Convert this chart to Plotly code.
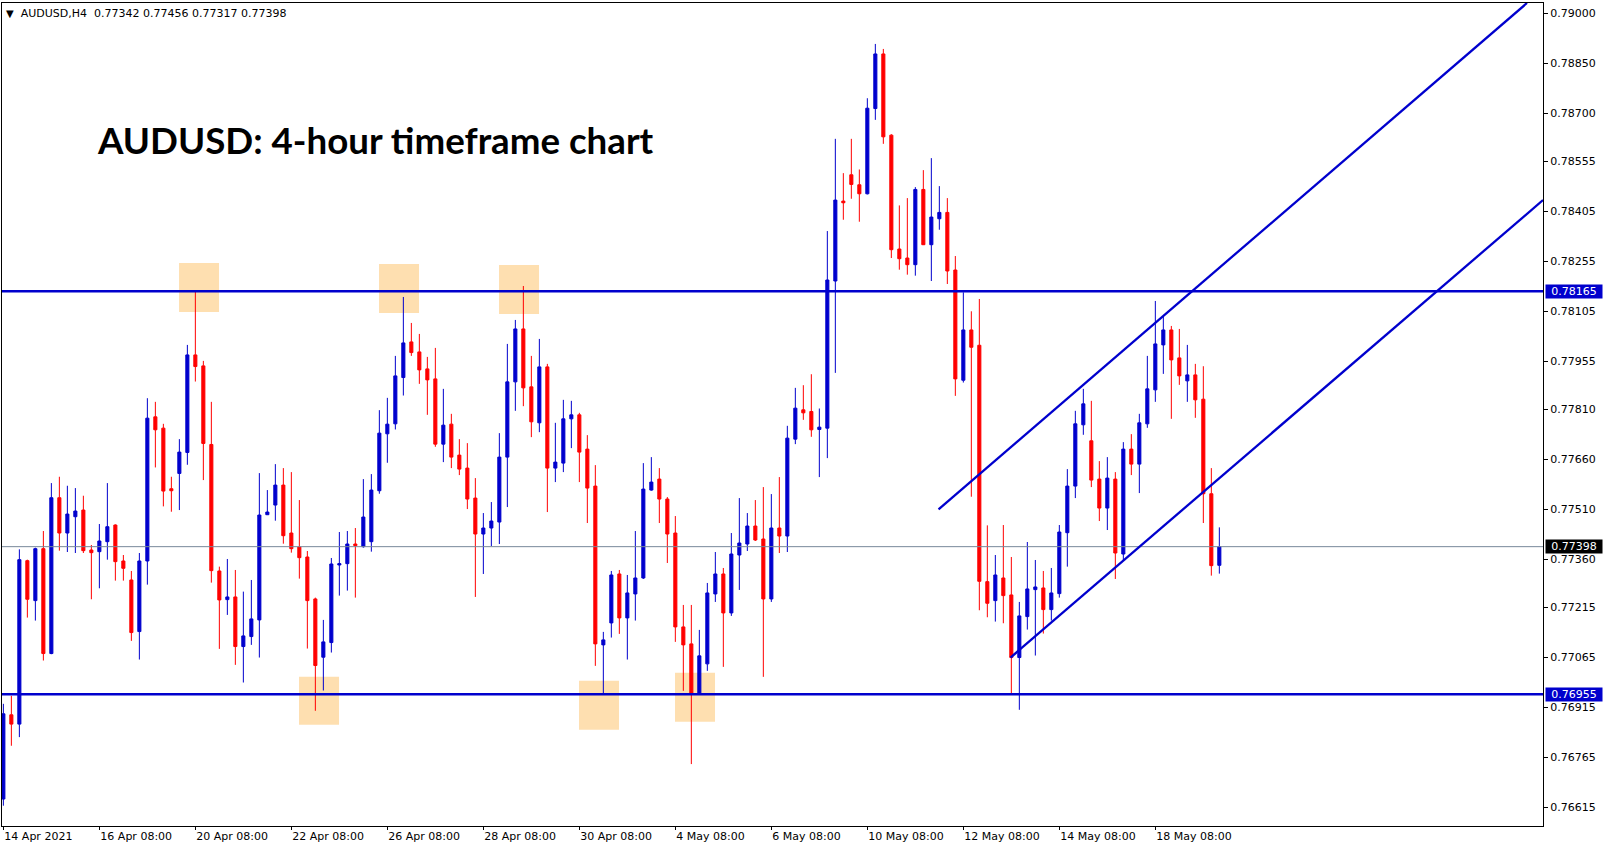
import plotly.graph_objects as go

# ---------------- data ----------------
DAYS = ["2021-04-14", "2021-04-15", "2021-04-16",
        "2021-04-19", "2021-04-20", "2021-04-21", "2021-04-22", "2021-04-23",
        "2021-04-26", "2021-04-27", "2021-04-28", "2021-04-29", "2021-04-30",
        "2021-05-03", "2021-05-04", "2021-05-05", "2021-05-06", "2021-05-07",
        "2021-05-10", "2021-05-11", "2021-05-12", "2021-05-13", "2021-05-14",
        "2021-05-17", "2021-05-18", "2021-05-19"]
HOURS = ["00:00", "04:00", "08:00", "12:00", "16:00", "20:00"]
TIMES = [f"{d} {h}" for d in DAYS for h in HOURS][2:155]

OPEN = [
    0.76640, 0.76893, 0.76865, 0.77356, 0.77236, 0.77392, 0.77077, 0.77545, 0.77439, 0.77488,
    0.77508, 0.77388, 0.77383, 0.77413, 0.77463, 0.77355, 0.77298, 0.77143, 0.77355, 0.77788,
    0.77754, 0.77572, 0.77618, 0.77681, 0.77974, 0.77941, 0.77705, 0.77325, 0.77239, 0.77247,
    0.77098, 0.77128, 0.77178, 0.77494, 0.77523, 0.77583, 0.77439, 0.77397, 0.77367, 0.77241,
    0.77066, 0.77110, 0.77343, 0.77347, 0.77406, 0.77398, 0.77413, 0.77566, 0.77737, 0.77767,
    0.77906, 0.78013, 0.77983, 0.77932, 0.77902, 0.77706, 0.77766, 0.77673, 0.77634, 0.77544,
    0.77436, 0.77454, 0.77472, 0.77667, 0.77893, 0.78052, 0.77878, 0.77770, 0.77938, 0.77634,
    0.77649, 0.77782, 0.77794, 0.77691, 0.77580, 0.77103, 0.77169, 0.77316, 0.77184, 0.77256,
    0.77304, 0.77568, 0.77601, 0.77541, 0.77439, 0.77157, 0.77106, 0.76955, 0.77046, 0.77256,
    0.77316, 0.77199, 0.77373, 0.77406, 0.77460, 0.77421, 0.77241, 0.77454, 0.77430, 0.77721,
    0.77809, 0.77804, 0.77750, 0.77754, 0.78196, 0.78436, 0.78515, 0.78485, 0.78458, 0.78714,
    0.78878, 0.78634, 0.78292, 0.78265, 0.78245, 0.78471, 0.78305, 0.78383, 0.78402, 0.78229,
    0.77898, 0.78049, 0.78003, 0.77293, 0.77236, 0.77304, 0.77253, 0.77065, 0.77188, 0.77269,
    0.77274, 0.77209, 0.77257, 0.77440, 0.77580, 0.77764, 0.77716, 0.77601, 0.77514, 0.77601,
    0.77376, 0.77691, 0.77646, 0.77767, 0.77869, 0.78004, 0.78049, 0.77965, 0.77896, 0.77914,
    0.77841, 0.77557, 0.77342]

HIGH = [
    0.76926, 0.76950, 0.77390, 0.77359, 0.77395, 0.77445, 0.77589, 0.77608, 0.77581, 0.77574,
    0.77551, 0.77403, 0.77466, 0.77589, 0.77465, 0.77373, 0.77325, 0.77379, 0.77844, 0.77833,
    0.77767, 0.77608, 0.77721, 0.78004, 0.78168, 0.77956, 0.77833, 0.77338, 0.77361, 0.77328,
    0.77263, 0.77298, 0.77619, 0.77568, 0.77646, 0.77634, 0.77622, 0.77538, 0.77385, 0.77245,
    0.77178, 0.77364, 0.77442, 0.77445, 0.77454, 0.77601, 0.77616, 0.77808, 0.77845, 0.77971,
    0.78148, 0.78070, 0.78037, 0.77968, 0.77995, 0.77872, 0.77797, 0.77721, 0.77709, 0.77604,
    0.77499, 0.77532, 0.77739, 0.78007, 0.78079, 0.78181, 0.77971, 0.78022, 0.77947, 0.77770,
    0.77839, 0.77836, 0.77800, 0.77733, 0.77643, 0.77142, 0.77325, 0.77328, 0.77313, 0.77445,
    0.77649, 0.77667, 0.77634, 0.77547, 0.77490, 0.77223, 0.77223, 0.77148, 0.77289, 0.77382,
    0.77334, 0.77439, 0.77544, 0.77499, 0.77538, 0.77577, 0.77556, 0.77607, 0.77761, 0.77875,
    0.77883, 0.77916, 0.77813, 0.78346, 0.78623, 0.78520, 0.78623, 0.78531, 0.78745, 0.78908,
    0.78893, 0.78637, 0.78423, 0.78445, 0.78478, 0.78529, 0.78565, 0.78481, 0.78445, 0.78271,
    0.78162, 0.78105, 0.78142, 0.77462, 0.77373, 0.77463, 0.77367, 0.77232, 0.77412, 0.77358,
    0.77325, 0.77334, 0.77463, 0.77631, 0.77806, 0.77872, 0.77836, 0.77655, 0.77667, 0.77622,
    0.77712, 0.77736, 0.77797, 0.77971, 0.78136, 0.78088, 0.78061, 0.78052, 0.78004, 0.77947,
    0.77940, 0.77634, 0.77456]

LOW = [
    0.76620, 0.76800, 0.76826, 0.77185, 0.77176, 0.77056, 0.77075, 0.77386, 0.77382, 0.77379,
    0.77379, 0.77240, 0.77273, 0.77359, 0.77296, 0.77296, 0.77115, 0.77059, 0.77284, 0.77636,
    0.77519, 0.77503, 0.77508, 0.77644, 0.77894, 0.77598, 0.77290, 0.77091, 0.77193, 0.77043,
    0.76990, 0.77103, 0.77065, 0.77493, 0.77476, 0.77407, 0.77380, 0.77302, 0.77092, 0.76905,
    0.76966, 0.77080, 0.77251, 0.77266, 0.77245, 0.77395, 0.77383, 0.77557, 0.77650, 0.77750,
    0.77852, 0.77971, 0.77887, 0.77794, 0.77698, 0.77652, 0.77634, 0.77613, 0.77511, 0.77247,
    0.77316, 0.77400, 0.77406, 0.77517, 0.77806, 0.77820, 0.77727, 0.77742, 0.77502, 0.77592,
    0.77622, 0.77694, 0.77592, 0.77469, 0.77040, 0.76958, 0.77125, 0.77136, 0.77059, 0.77176,
    0.77301, 0.77566, 0.77469, 0.77349, 0.77112, 0.76965, 0.76745, 0.76953, 0.77025, 0.77232,
    0.77037, 0.77190, 0.77268, 0.77385, 0.77415, 0.77007, 0.77232, 0.77379, 0.77382, 0.77706,
    0.77779, 0.77728, 0.77607, 0.77664, 0.77920, 0.78380, 0.78443, 0.78374, 0.78456, 0.78680,
    0.78608, 0.78265, 0.78230, 0.78215, 0.78212, 0.78304, 0.78196, 0.78350, 0.78187, 0.77851,
    0.77891, 0.77548, 0.77207, 0.77186, 0.77173, 0.77168, 0.76958, 0.76908, 0.77149, 0.77071,
    0.77137, 0.77176, 0.77245, 0.77338, 0.77544, 0.77734, 0.77577, 0.77475, 0.77448, 0.77301,
    0.77355, 0.77613, 0.77559, 0.77755, 0.77833, 0.77917, 0.77782, 0.77884, 0.77833, 0.77785,
    0.77469, 0.77311, 0.77317]

CLOSE = [
    0.76896, 0.76865, 0.77359, 0.77240, 0.77392, 0.77077, 0.77545, 0.77439, 0.77496, 0.77505,
    0.77386, 0.77380, 0.77415, 0.77458, 0.77353, 0.77333, 0.77140, 0.77355, 0.77784, 0.77749,
    0.77565, 0.77566, 0.77682, 0.77974, 0.77939, 0.77708, 0.77326, 0.77238, 0.77247, 0.77098,
    0.77130, 0.77181, 0.77493, 0.77502, 0.77583, 0.77431, 0.77392, 0.77365, 0.77236, 0.77041,
    0.77112, 0.77346, 0.77347, 0.77406, 0.77401, 0.77487, 0.77568, 0.77739, 0.77766, 0.77911,
    0.78010, 0.77981, 0.77929, 0.77899, 0.77706, 0.77763, 0.77667, 0.77631, 0.77541, 0.77436,
    0.77454, 0.77475, 0.77667, 0.77893, 0.78052, 0.77875, 0.77773, 0.77938, 0.77634, 0.77652,
    0.77782, 0.77794, 0.77682, 0.77574, 0.77106, 0.77118, 0.77313, 0.77184, 0.77259, 0.77304,
    0.77571, 0.77592, 0.77541, 0.77436, 0.77157, 0.77103, 0.76955, 0.77070, 0.77259, 0.77316,
    0.77199, 0.77376, 0.77409, 0.77460, 0.77418, 0.77241, 0.77454, 0.77430, 0.77724, 0.77814,
    0.77800, 0.77749, 0.77757, 0.78199, 0.78439, 0.78431, 0.78486, 0.78458, 0.78715, 0.78878,
    0.78629, 0.78290, 0.78263, 0.78245, 0.78471, 0.78305, 0.78388, 0.78402, 0.78226, 0.77902,
    0.78049, 0.77997, 0.77294, 0.77228, 0.77313, 0.77251, 0.77065, 0.77190, 0.77271, 0.77277,
    0.77209, 0.77259, 0.77442, 0.77580, 0.77767, 0.77827, 0.77598, 0.77514, 0.77604, 0.77379,
    0.77691, 0.77646, 0.77770, 0.77872, 0.78007, 0.78049, 0.77959, 0.77911, 0.77914, 0.77839,
    0.77557, 0.77341, 0.77398]

X_TICK_LABELS = ["14 Apr 2021", "16 Apr 08:00", "20 Apr 08:00", "22 Apr 08:00",
                 "26 Apr 08:00", "28 Apr 08:00", "30 Apr 08:00", "4 May 08:00",
                 "6 May 08:00", "10 May 08:00", "12 May 08:00", "14 May 08:00",
                 "18 May 08:00"]
Y_TICKS = [0.79000, 0.78850, 0.78700, 0.78555, 0.78405, 0.78255, 0.78105, 0.77955,
           0.77810, 0.77660, 0.77510, 0.77360, 0.77215, 0.77065, 0.76915, 0.76765,
           0.76615]

RESISTANCE = 0.78165
SUPPORT = 0.76955
LAST_PRICE = 0.77398
HEADER_OHLC = [0.77342, 0.77456, 0.77317, 0.77398]

# channel lines: (bar index, price) pairs
CHANNEL_UPPER = [(116.9, 0.77510), (190.46, 0.79031)]
CHANNEL_LOWER = [(125.9, 0.77065), (192.46, 0.78439)]

# highlight boxes: (left bar index, top price, bottom price), 5 bars wide
BOXES = [(21.96, 0.78250, 0.78103), (46.96, 0.78247, 0.78100), (61.96, 0.78244, 0.78097),
         (36.96, 0.77007, 0.76863), (71.96, 0.76995, 0.76848), (83.96, 0.77019, 0.76872)]
BOX_WIDTH = 5

# ---------------- styles ----------------
BLUE = "#0000CD"
RED = "#FF0000"
BOX_COLOR = "#FEDFB0"
FONT = "DejaVu Sans"

fig = go.Figure()
fig.add_trace(go.Candlestick(
    x=TIMES, open=OPEN, high=HIGH, low=LOW, close=CLOSE,
    increasing=dict(line=dict(color=BLUE, width=1), fillcolor=BLUE),
    decreasing=dict(line=dict(color=RED, width=1), fillcolor=RED),
    whiskerwidth=0, hoverinfo="skip", showlegend=False,
))

shapes = []
for (x0, top, bot) in BOXES:
    shapes.append(dict(type="rect", xref="x", yref="y", x0=x0, x1=x0 + BOX_WIDTH,
                       y0=bot, y1=top, fillcolor=BOX_COLOR, line=dict(width=0),
                       layer="below"))
shapes.append(dict(type="line", xref="paper", yref="y", x0=0, x1=1,
                   y0=LAST_PRICE, y1=LAST_PRICE, line=dict(color="#778899", width=1)))
for lvl in (RESISTANCE, SUPPORT):
    shapes.append(dict(type="line", xref="paper", yref="y", x0=0, x1=1,
                       y0=lvl, y1=lvl, line=dict(color=BLUE, width=2.5)))
for (p0, p1) in (CHANNEL_UPPER, CHANNEL_LOWER):
    shapes.append(dict(type="line", xref="x", yref="y", x0=p0[0], y0=p0[1],
                       x1=p1[0], y1=p1[1], line=dict(color=BLUE, width=2.3)))

annotations = [
    dict(xref="paper", yref="paper", x=0, y=1, xanchor="left", yanchor="top",
         xshift=2, yshift=-2, showarrow=False,
         text="<span style='font-size:10px'>\u25BC</span>\u00a0\u00a0AUDUSD,H4\u00a0\u00a0"
              + " ".join(f"{v:.5f}" for v in HEADER_OHLC),
         font=dict(family=FONT, size=11, color="#000000")),
    dict(xref="paper", yref="paper", x=0.0604, y=0.8335, xanchor="left", yanchor="middle",
         showarrow=False, text="<b>AUDUSD: 4-hour timeframe chart</b>",
         font=dict(family="Lato", size=36.7, color="#000000")),
]
for price, bg in ((RESISTANCE, BLUE), (LAST_PRICE, "#000000"), (SUPPORT, BLUE)):
    annotations.append(dict(xref="paper", yref="y", x=1, y=price, xanchor="left",
                            yanchor="middle", xshift=2, showarrow=False,
                            text=f"{price:.5f}", bgcolor=bg, borderpad=0,
                            width=56, height=13, align="center",
                            font=dict(family=FONT, size=11, color="#FFFFFF")))

fig.update_layout(
    width=1607, height=850,
    margin=dict(l=2, r=64, t=3, b=24),
    paper_bgcolor="#FFFFFF", plot_bgcolor="#FFFFFF",
    boxgap=0.45,
    shapes=shapes, annotations=annotations,
    xaxis=dict(type="category", range=[-0.17, 192.46], rangeslider=dict(visible=False),
               showgrid=False, zeroline=False, showline=True, mirror=True,
               linecolor="#000000", linewidth=1, ticks="outside", ticklen=3,
               tickcolor="#000000", tickvals=TIMES[0::12][:len(X_TICK_LABELS)],
               ticktext=X_TICK_LABELS, ticklabelposition="outside right",
               tickfont=dict(family=FONT, size=11, color="#000000"), fixedrange=True),
    yaxis=dict(side="right", range=[0.76559, 0.79031], showgrid=False, zeroline=False,
               showline=True, mirror=True, linecolor="#000000", linewidth=1,
               ticks="outside", ticklen=4, tickcolor="#000000",
               tickvals=Y_TICKS, ticktext=[f"{v:.5f}" for v in Y_TICKS],
               tickfont=dict(family=FONT, size=11, color="#000000"), fixedrange=True),
)

fig.write_html("out.html", config={"displayModeBar": False},
               post_script="document.body.style.margin='0';document.body.style.overflow='hidden';")
